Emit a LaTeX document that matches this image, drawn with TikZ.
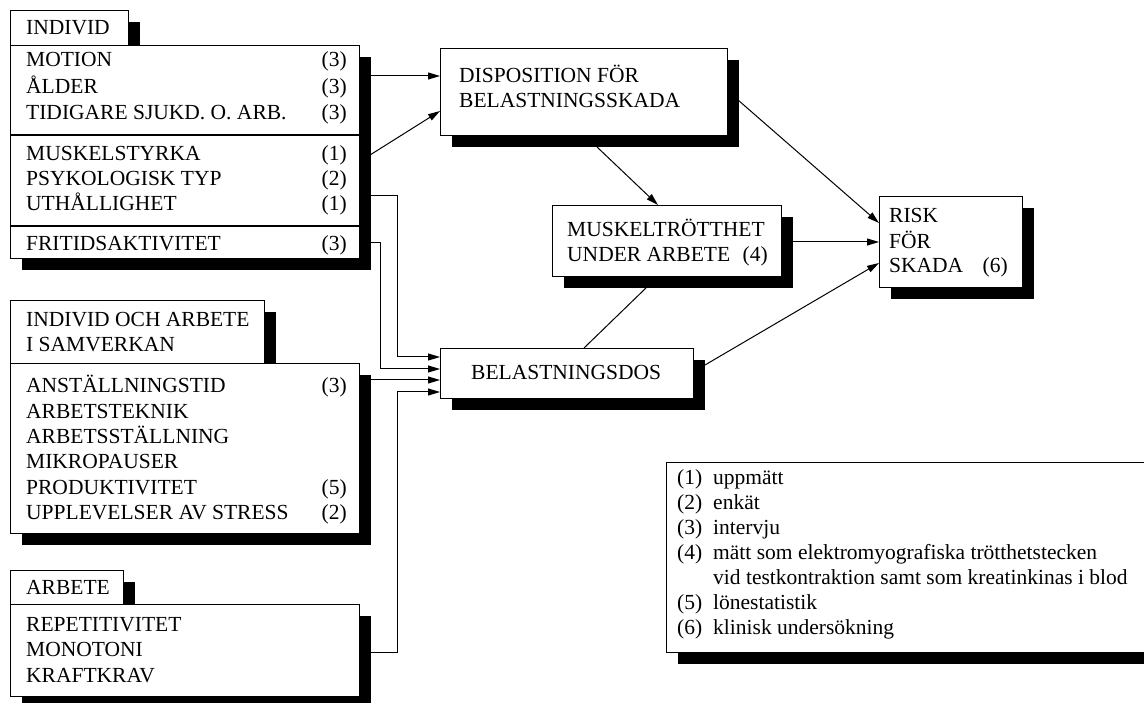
\documentclass[tikz,border=0pt]{standalone}
\usepackage{fontspec}
\setmainfont{Liberation Serif}
\usetikzlibrary{arrows.meta,shadows}
\begin{document}
\begin{tikzpicture}[x=1pt,y=-1pt,
 box/.style={draw, line width=1.3pt, fill=white, rectangle, inner sep=0pt, anchor=north west,
   drop shadow={shadow xshift=11pt, shadow yshift=-11pt, fill=black, opacity=1}},
 txt/.style={anchor=base west, inner sep=0pt, font=\fontsize{21.5}{25}\selectfont},
 num/.style={anchor=base east, inner sep=0pt, font=\fontsize{21.5}{25}\selectfont},
 conn/.style={line width=1pt},
 arr/.style={conn, -{Triangle[length=12pt,width=7pt]}}]
\useasboundingbox (0,0) rectangle (1144,703);

% ---------------- INDIVID
\node[box, minimum width=118pt, minimum height=35pt] (indtab) at (10,10) {};
\node[box, minimum width=349pt, minimum height=213pt] (ind) at (10,45) {};
\draw[line width=1.3pt] (ind.west |- 0,135) -- (ind.east |- 0,135);
\draw[line width=1.3pt] (ind.west |- 0,226) -- (ind.east |- 0,226);
\node[txt] (t0) at (26,35) {INDIVID};
\node[txt] (t1) at (26,67) {MOTION};          \node[num] (n1) at (347,67) {(3)};
\node[txt] (t2) at (26,94) {ÅLDER};           \node[num] (n2) at (347,94) {(3)};
\node[txt] (t3) at (26,120) {TIDIGARE SJUKD. O. ARB.}; \node[num] (n3) at (347,120) {(3)};
\node[txt] (t4) at (26,161) {MUSKELSTYRKA};   \node[num] (n4) at (347,161) {(1)};
\node[txt] (t5) at (26,186) {PSYKOLOGISK TYP};\node[num] (n5) at (347,186) {(2)};
\node[txt] (t6) at (26,211) {UTHÅLLIGHET};    \node[num] (n6) at (347,211) {(1)};
\node[txt] (t7) at (26,251) {FRITIDSAKTIVITET}; \node[num] (n7) at (347,251) {(3)};

% ---------------- INDIVID OCH ARBETE
\node[box, minimum width=254pt, minimum height=63pt] (iatab) at (10,300) {};
\node[box, minimum width=349pt, minimum height=170pt] (ia) at (10,363) {};
\node[txt] (u0) at (26,327) {INDIVID OCH ARBETE};
\node[txt] (u0b) at (26,352) {I SAMVERKAN};
\node[txt] (u1) at (26,393) {ANSTÄLLNINGSTID}; \node[num] (m1) at (347,393) {(3)};
\node[txt] (u2) at (26,418) {ARBETSTEKNIK};
\node[txt] (u3) at (26,443) {ARBETSSTÄLLNING};
\node[txt] (u4) at (26,468) {MIKROPAUSER};
\node[txt] (u5) at (26,494) {PRODUKTIVITET};  \node[num] (m5) at (347,494) {(5)};
\node[txt] (u6) at (26,519) {UPPLEVELSER AV STRESS}; \node[num] (m6) at (347,519) {(2)};

% ---------------- ARBETE
\node[box, minimum width=113pt, minimum height=34pt] (arbtab) at (10,570) {};
\node[box, minimum width=349pt, minimum height=92pt] (arb) at (10,604) {};
\node[txt] (v0) at (26,594) {ARBETE};
\node[txt] (v1) at (26,631) {REPETITIVITET};
\node[txt] (v2) at (26,656) {MONOTONI};
\node[txt] (v3) at (26,682) {KRAFTKRAV};

% ---------------- middle / right boxes
\node[box, minimum width=287pt, minimum height=87pt] (disp) at (440,48) {};
\node[txt] (d1) at (459,83) {DISPOSITION FÖR};
\node[txt] (d2) at (459,108) {BELASTNINGSSKADA};

\node[box, minimum width=229pt, minimum height=71pt] (musk) at (552,205) {};
\node[txt] (k1) at (567,237) {MUSKELTRÖTTHET};
\node[txt] (k2) at (567,262) {UNDER ARBETE};
\node[num] (k3) at (768,262) {(4)};

\node[box, minimum width=253pt, minimum height=50pt] (bel) at (440,348) {};
\node[txt] (b1) at (471,380) {BELASTNINGSDOS};

\node[box, minimum width=143pt, minimum height=91pt] (risk) at (879,196) {};
\node[txt] (r1) at (889,223) {RISK};
\node[txt] (r2) at (889,249) {FÖR};
\node[txt] (r3) at (889,273) {SKADA};
\node[num] (r4) at (1008,273) {(6)};

% ---------------- legend
\node[box, minimum width=500pt, minimum height=190pt] (leg) at (666,462) {};
\node[txt] (l1) at (677,484) {(1)}; \node[txt] (e1) at (713,484) {uppmätt};
\node[txt] (l2) at (677,509) {(2)}; \node[txt] (e2) at (713,509) {enkät};
\node[txt] (l3) at (677,534) {(3)}; \node[txt] (e3) at (713,534) {intervju};
\node[txt] (l4) at (677,559) {(4)}; \node[txt] (e4) at (713,559) {mätt som elektromyografiska trötthetstecken};
\node[txt] (e4b) at (713,584) {vid testkontraktion samt som kreatinkinas i blod};
\node[txt] (l5) at (677,609) {(5)}; \node[txt] (e5) at (713,609) {lönestatistik};
\node[txt] (l6) at (677,634) {(6)}; \node[txt] (e6) at (713,634) {klinisk undersökning};

% ---------------- connector points (shadow edges)
\coordinate (indR) at (370,0);
\coordinate (dispR) at (738,0);
\coordinate (muskR) at (792,0);
\coordinate (belR) at (705,0);

\draw[arr] (indR |- 0,76) -- (disp.west |- 0,76);
\draw[arr] (indR |- 0,155) -- (disp.west |- 0,111);
\draw[arr] (indR |- 0,196) -- (397,196) -- (397,357) -- (bel.west |- 0,357);
\draw[arr] (indR |- 0,243) -- (380,243) -- (380,369) -- (bel.west |- 0,369);
\draw[arr] (indR |- 0,380) -- (bel.west |- 0,380);
\draw[arr] (indR |- 0,652) -- (397,652) -- (397,392) -- (bel.west |- 0,392);

\draw[arr] (597,147) -- (musk.north -| 658,0);
\draw[conn] (647,287) -- (bel.north -| 584,0);

\draw[arr] (dispR |- 0,100) -- (risk.west |- 0,223);
\draw[arr] (muskR |- 0,242) -- (risk.west |- 0,242);
\draw[arr] (belR |- 0,365) -- (risk.west |- 0,263);
\end{tikzpicture}
\end{document}
